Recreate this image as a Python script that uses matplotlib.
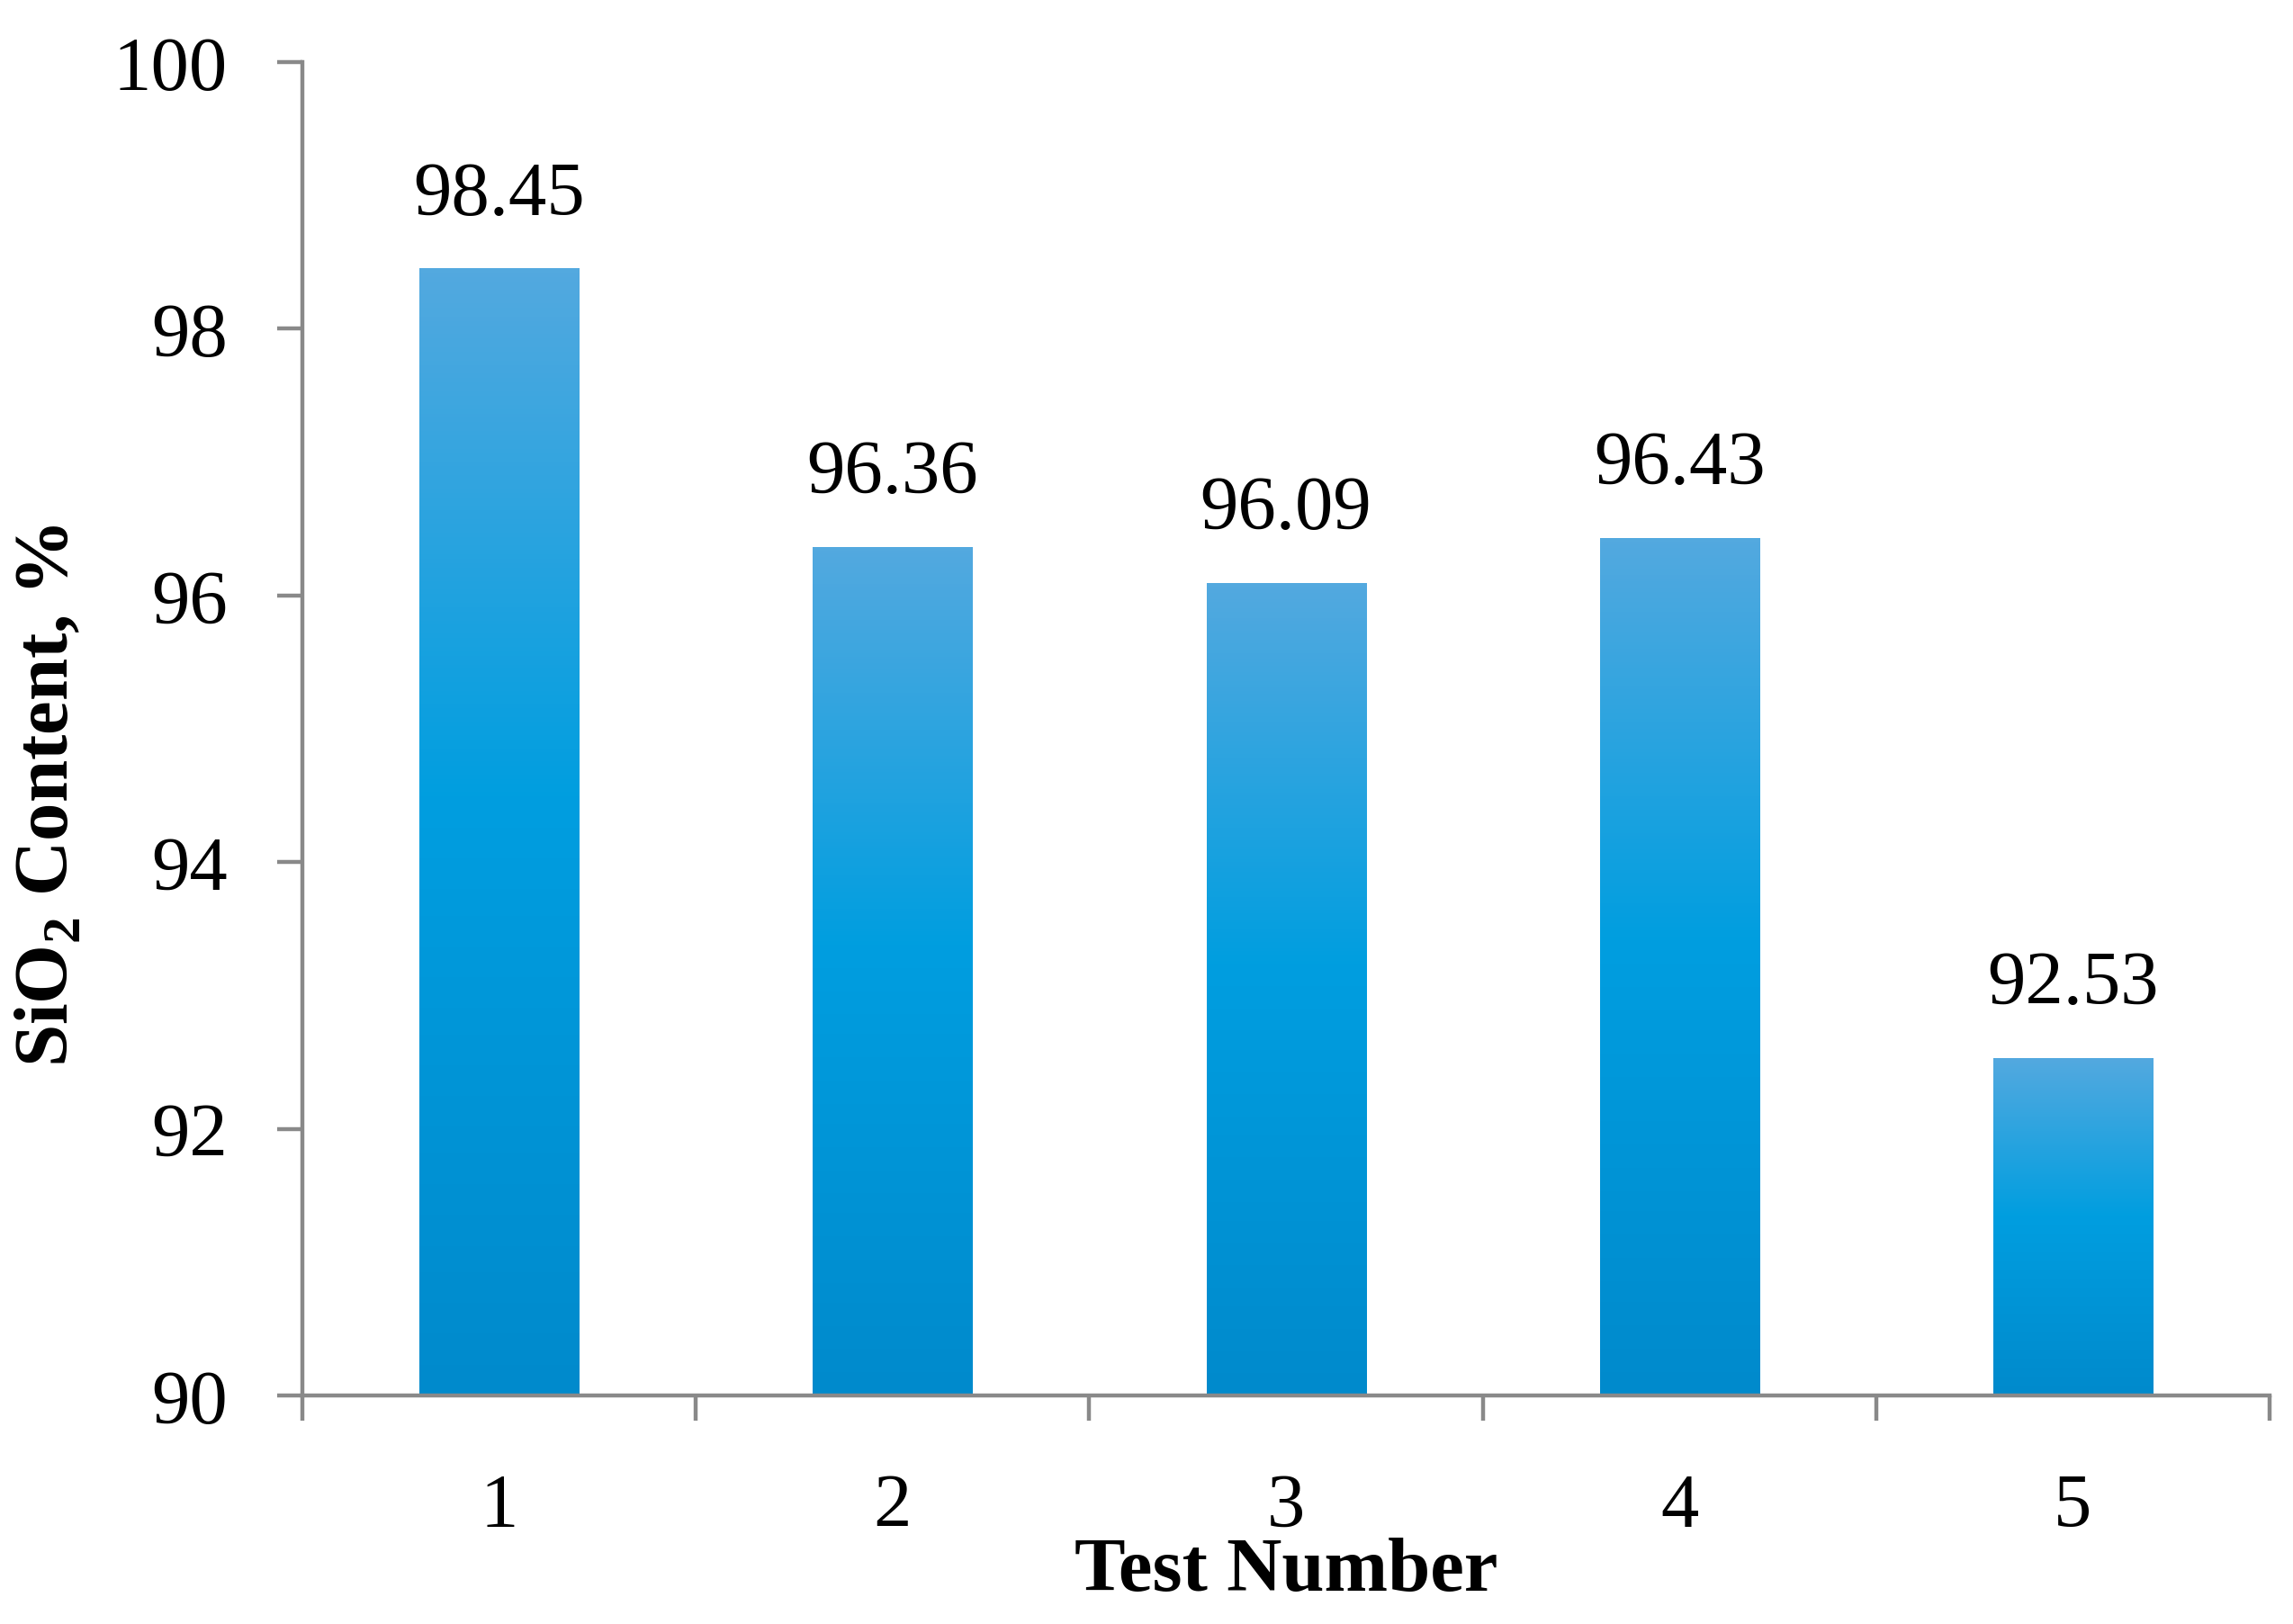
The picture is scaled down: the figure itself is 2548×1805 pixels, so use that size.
import matplotlib
matplotlib.use("Agg")
import matplotlib.pyplot as plt
import numpy as np
from matplotlib.colors import LinearSegmentedColormap

# Data
tests = ["1", "2", "3", "4", "5"]
sio2 = [98.45, 96.36, 96.09, 96.43, 92.53]

plt.rcParams["font.family"] = ["Liberation Serif", "DejaVu Serif"]
plt.rcParams["mathtext.fontset"] = "custom"
plt.rcParams["mathtext.rm"] = "Liberation Serif"
plt.rcParams["mathtext.bf"] = "Liberation Serif:bold"

axis_gray = "#898989"
fs = 61

# bar gradient: light on top, saturated in the middle, darker at the base
grad = LinearSegmentedColormap.from_list(
    "bar", [(0.0, "#008ACC"), (0.53, "#009EE0"), (1.0, "#53A9DF")])

fig = plt.figure(figsize=(25.48, 18.06), dpi=100)
ax = fig.add_axes([0.1319, 0.1406, 0.8579, 0.8206])

x = np.arange(1, len(tests) + 1)
bars = ax.bar(x, sio2, width=0.405, bottom=0, color="none")

g = np.linspace(0, 1, 256).reshape(-1, 1)
for b, v in zip(bars, sio2):
    x0 = b.get_x()
    ax.imshow(g, cmap=grad, origin="lower", aspect="auto",
              extent=(x0, x0 + b.get_width(), 90, v), zorder=2)
    ax.annotate(f"{v:.2f}", (x0 + b.get_width() / 2, v),
                xytext=(0, 44), textcoords="offset points",
                ha="center", va="baseline", fontsize=fs)

ax.set_xlim(0.5, len(tests) + 0.5)
ax.set_ylim(90, 100)
ax.set_yticks(np.arange(90, 101, 2))

# labels in the middle, tick marks at category boundaries
ax.set_xticks(x)
ax.set_xticklabels(tests)
ax.set_xticks(np.arange(0.5, len(tests) + 1, 1), minor=True)
ax.tick_params(axis="x", which="major", length=0, pad=62, labelsize=fs)
ax.tick_params(axis="x", which="minor", length=20, width=3.2,
               color=axis_gray, direction="out")
ax.tick_params(axis="y", length=20, width=3.2, color=axis_gray,
               direction="out", pad=40, labelsize=fs)

for s in ["top", "right"]:
    ax.spines[s].set_visible(False)
for s in ["left", "bottom"]:
    ax.spines[s].set_color(axis_gray)
    ax.spines[s].set_linewidth(3.2)
    ax.spines[s].set_zorder(3)

ax.set_xlabel("Test Number", fontsize=fs, fontweight="bold")
ax.xaxis.set_label_coords(0.5, -0.106)
ax.set_ylabel(r"SiO$_{\mathbf{2}}$ Content, %", fontsize=fs, fontweight="bold")
ax.yaxis.set_label_coords(-0.111, 0.451)

fig.savefig("out.png", dpi=100)
